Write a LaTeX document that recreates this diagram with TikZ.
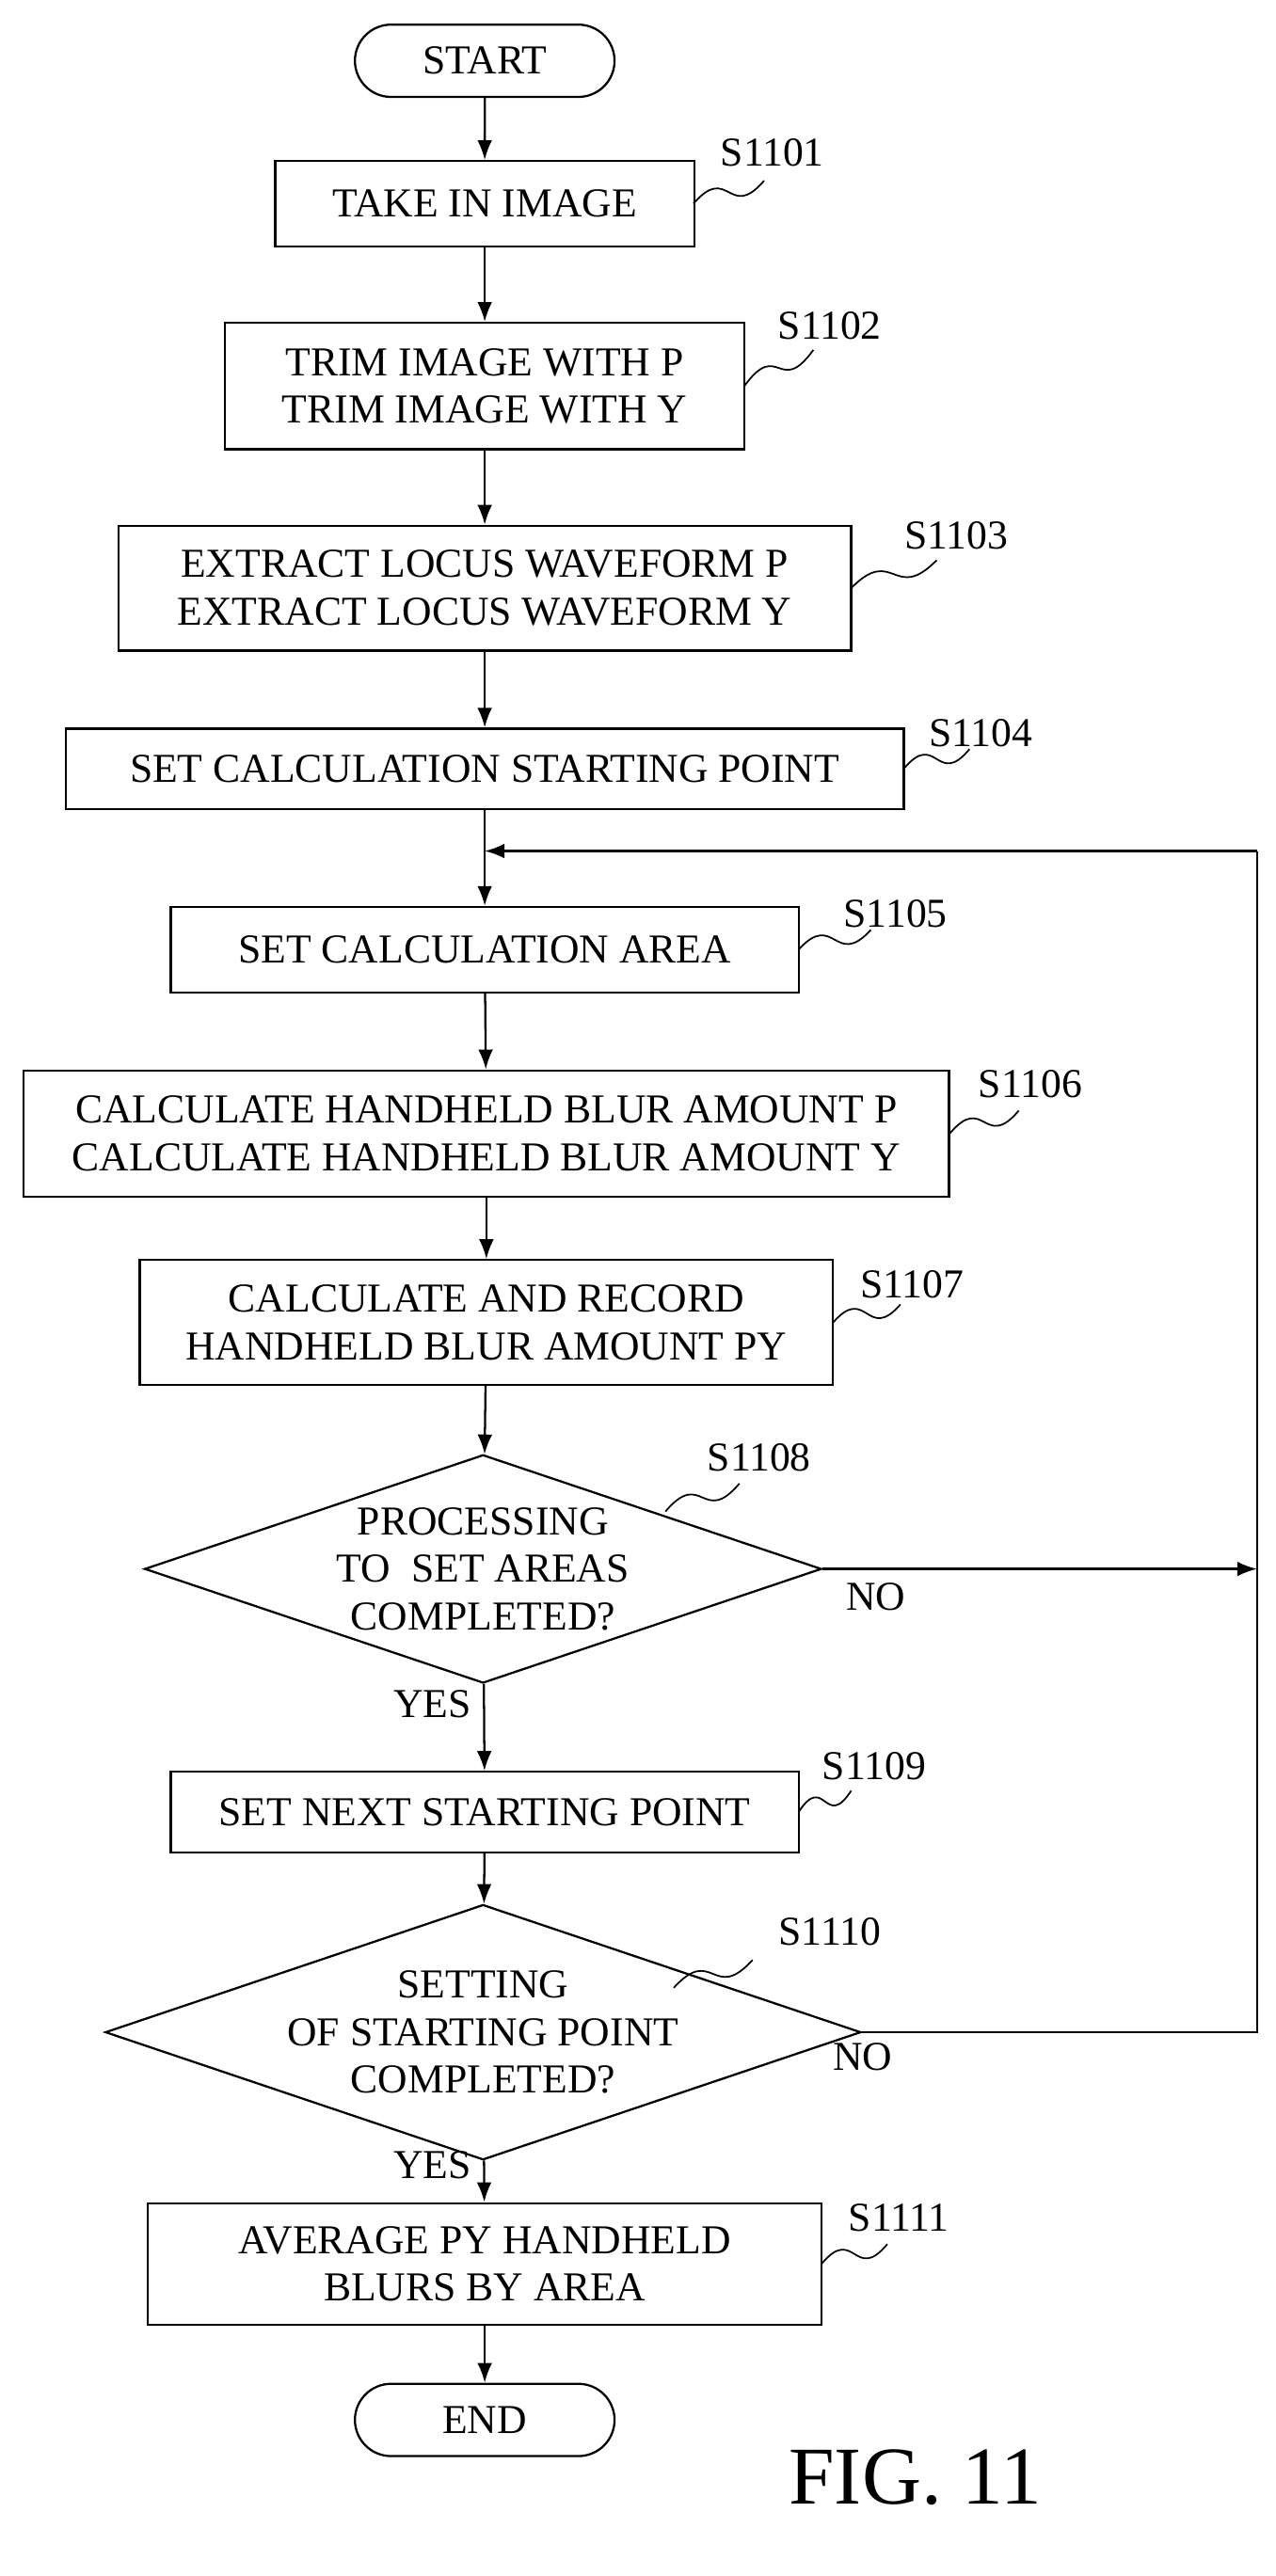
\documentclass[tikz,border=0pt]{standalone}
\usepackage{fontspec}
\setmainfont{Liberation Serif}
\usetikzlibrary{shapes.geometric,shapes.misc,arrows.meta,calc}
\begin{document}
\begin{tikzpicture}[x=1pt,y=-1pt,
  every node/.style={font=\fontsize{25}{29}\selectfont},
  box/.style={draw,line width=1.3pt,rectangle,inner sep=0pt,align=center},
  term/.style={draw,line width=1.3pt,rounded rectangle,minimum width=158pt,minimum height=44pt,inner sep=0pt},
  dia/.style={draw,line width=1.3pt,diamond,aspect=2.96,minimum width=412pt,minimum height=139pt,inner sep=0pt,align=center},
  arr/.style={-{Latex[length=12pt,width=9pt]},line width=1.3pt},
  ln/.style={line width=1.3pt},
  sq/.style={line width=1pt},
  lab/.style={anchor=center}]
\useasboundingbox (0,0) rectangle (776,1568);
\node[term] (st) at (295,37) {START};
\node[box,minimum width=255pt,minimum height=52pt] (b1) at (295,124) {TAKE IN IMAGE};
\node[box,minimum width=316pt,minimum height=77pt] (b2) at (295,235) {TRIM IMAGE WITH P\\TRIM IMAGE WITH Y};
\node[box,minimum width=446pt,minimum height=76pt] (b3) at (295,358) {EXTRACT LOCUS WAVEFORM P\\EXTRACT LOCUS WAVEFORM Y};
\node[box,minimum width=510pt,minimum height=49pt] (b4) at (295,468) {SET CALCULATION STARTING POINT};
\node[box,minimum width=382pt,minimum height=52pt] (b5) at (295,578) {SET CALCULATION AREA};
\node[box,minimum width=563pt,minimum height=77pt] (b6) at (296,690) {CALCULATE HANDHELD BLUR AMOUNT P\\CALCULATE HANDHELD BLUR AMOUNT Y};
\node[box,minimum width=422pt,minimum height=76pt] (b7) at (296,805) {CALCULATE AND RECORD\\HANDHELD BLUR AMOUNT PY};
\node[dia] (d8) at (294,955) {PROCESSING\\TO\ \ SET AREAS\\COMPLETED?};
\node[box,minimum width=382pt,minimum height=49pt] (b9) at (295,1103) {SET NEXT STARTING POINT};
\node[dia] (d10) at (294,1237) {SETTING\\OF STARTING POINT\\COMPLETED?};
\node[box,minimum width=410pt,minimum height=74pt] (b11) at (295,1378) {AVERAGE PY HANDHELD\\BLURS BY AREA};
\node[term] (en) at (295,1473) {END};
\node[font=\fontsize{50}{56}\selectfont] (fig) at (557,1508) {FIG. 11};

\coordinate (j) at (295,518);
\coordinate (rt) at (765,518);
\coordinate (r8) at (765,955);
\coordinate (r10) at (765,1237);
\draw[arr] (st) -- (b1);
\draw[arr] (b1) -- (b2);
\draw[arr] (b2) -- (b3);
\draw[arr] (b3) -- (b4);
\draw[ln] (b4) -- (j);
\draw[arr] (j) -- (b5);
\draw[arr] (b5) -- (b6);
\draw[arr] (b6) -- (b7);
\draw[arr] (b7) -- (d8);
\draw[arr] (d8) -- (b9);
\draw[arr] (b9) -- (d10);
\draw[arr] (d10) -- (b11);
\draw[arr] (b11) -- (en);
\draw[arr] (d8.east) -- (r8);
\draw[ln] (d10.east) -- (r10) -- (rt);
\draw[arr] (rt) -- (j);
\node (no1) at (533,972) {NO};
\node (no2) at (525,1252) {NO};
\node (y1) at (263,1037) {YES};
\node (y2) at (263,1318) {YES};

\foreach \n/\lx/\ly/\ax/\ay/\bx/\by/\t in {
 l1/470/93/422/124/465/110/S1101,
 l2/505/198/453/235/495/213/S1102,
 l3/582/326/518/358/570/341/S1103,
 l4/597/446/550/468/590/456/S1104,
 l5/545/556/486/578/530/566/S1105,
 l6/627/660/578/690/620/676/S1106,
 l7/555/782/507/805/548/794/S1107,
 l8/462/887/405/920/450/903/S1108,
 l9/532/1075/486/1103/518/1090/S1109,
 l10/505/1176/410/1210/458/1193/S1110,
 l11/547/1350/500/1378/540/1366/S1111}{
 \node[lab] (\n) at (\lx,\ly) {\t};
 \coordinate (\n a) at (\ax,\ay);
 \coordinate (\n b) at (\bx,\by);
 \draw[sq] (\n a) .. controls ($(\n a)!0.5!(\n b)+(0,-18)$) and ($(\n a)!0.5!(\n b)+(0,18)$) .. (\n b);
}
\end{tikzpicture}
\end{document}
